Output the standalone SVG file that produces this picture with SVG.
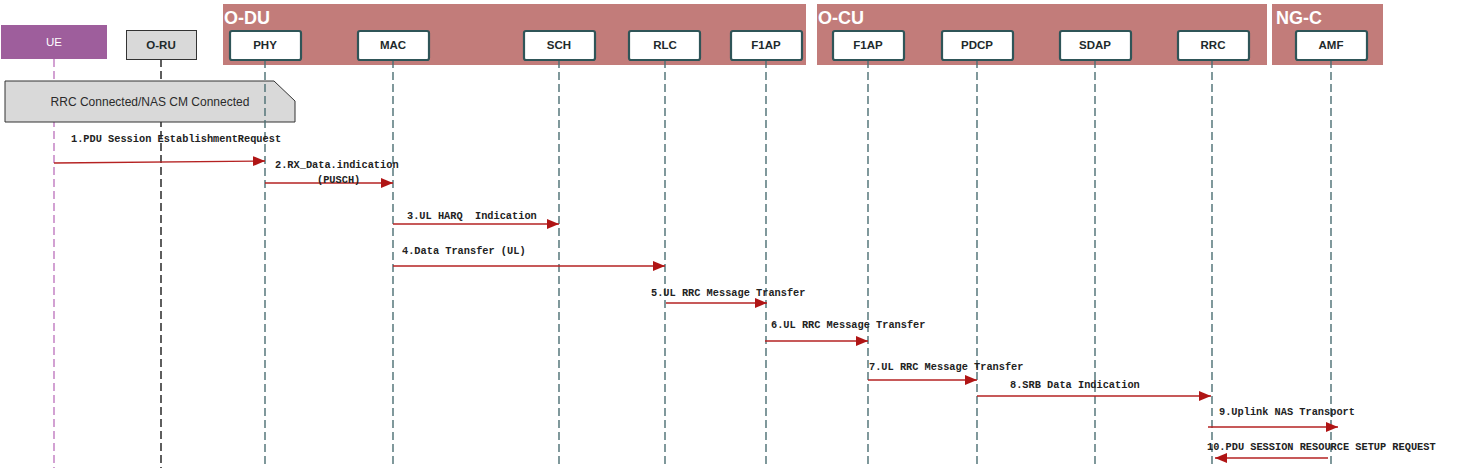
<svg xmlns="http://www.w3.org/2000/svg" width="1472" height="468" viewBox="0 0 1472 468">
<style>
.grp{fill:#C27C7A}
.gl{font-family:"Liberation Sans",Arial,sans-serif;font-weight:bold;font-size:18px;fill:#ffffff}
.box{fill:#ffffff;stroke:#2F5558;stroke-width:2.2}
.bl{font-family:"Liberation Sans",Arial,sans-serif;font-weight:bold;font-size:11.5px;fill:#1E2A2C;text-anchor:middle}
.life{stroke:#4A6E72;stroke-width:1.4;stroke-dasharray:8,4;fill:none}
.msg{stroke:#B52222;stroke-width:1.3;fill:none;marker-end:url(#ah)}
.mt{font-family:"Liberation Mono","Courier New",monospace;font-weight:bold;font-size:10.3px;fill:#222;white-space:pre}
</style>
<defs>
<marker id="ah" markerUnits="userSpaceOnUse" markerWidth="13" markerHeight="11" refX="12" refY="5" orient="auto">
<path d="M0,0 L12,5 L0,10 Z" fill="#B01515"/>
</marker>
</defs>
<rect width="1472" height="468" fill="#ffffff"/>
<g id="group-odu"><rect class="grp" x="223" y="4" width="583" height="61"/><text class="gl" x="224" y="24">O-DU</text></g>
<g id="group-ocu"><rect class="grp" x="817" y="4" width="450" height="61"/><text class="gl" x="818" y="24">O-CU</text></g>
<g id="group-ngc"><rect class="grp" x="1272" y="4" width="111" height="61"/><text class="gl" x="1276" y="24">NG-C</text></g>
<g id="node-ue"><line x1="54" y1="59" x2="54" y2="468" stroke="#C07AC0" stroke-width="1.4" stroke-dasharray="8,4"/><rect x="1" y="25" width="106" height="34" fill="#9E5E9C"/><text x="54" y="46" text-anchor="middle" font-family="Liberation Sans,Arial,sans-serif" font-size="11.5" fill="#ffffff">UE</text></g>
<g id="node-oru"><line x1="161" y1="59" x2="161" y2="468" stroke="#1a1a1a" stroke-width="1.4" stroke-dasharray="8,4"/><rect x="126.5" y="30.5" width="70" height="29" fill="#D9D9D9" stroke="#333" stroke-width="1"/><text class="bl" x="161" y="49">O-RU</text></g>
<g id="note-rrc"><path d="M5,81 L274,81 L295,101 L295,122 L5,122 Z" fill="#D9D9D9" stroke="#333" stroke-width="1"/><text x="150" y="106" text-anchor="middle" font-family="Liberation Sans,Arial,sans-serif" font-size="12" fill="#2a2a2a">RRC Connected/NAS CM Connected</text></g>
<g id="node-phy"><line class="life" x1="265" y1="60" x2="265" y2="468" stroke="#6E9195"/><rect class="box" x="230" y="31" width="71" height="29" rx="2"/><text class="bl" x="265" y="49">PHY</text></g>
<g id="node-mac"><line class="life" x1="393" y1="60" x2="393" y2="468"/><rect class="box" x="358" y="31" width="71" height="29" rx="2"/><text class="bl" x="393" y="49">MAC</text></g>
<g id="node-sch"><line class="life" x1="559" y1="60" x2="559" y2="468"/><rect class="box" x="524" y="31" width="71" height="29" rx="2"/><text class="bl" x="559" y="49">SCH</text></g>
<g id="node-rlc"><line class="life" x1="665" y1="60" x2="665" y2="468"/><rect class="box" x="629" y="31" width="71" height="29" rx="2"/><text class="bl" x="665" y="49">RLC</text></g>
<g id="node-f1ap-du"><line class="life" x1="766" y1="60" x2="766" y2="468"/><rect class="box" x="731" y="31" width="71" height="29" rx="2"/><text class="bl" x="766" y="49">F1AP</text></g>
<g id="node-f1ap-cu"><line class="life" x1="868" y1="60" x2="868" y2="468"/><rect class="box" x="833" y="31" width="71" height="29" rx="2"/><text class="bl" x="868" y="49">F1AP</text></g>
<g id="node-pdcp"><line class="life" x1="977" y1="60" x2="977" y2="468"/><rect class="box" x="942" y="31" width="71" height="29" rx="2"/><text class="bl" x="977" y="49">PDCP</text></g>
<g id="node-sdap"><line class="life" x1="1095" y1="60" x2="1095" y2="468"/><rect class="box" x="1060" y="31" width="71" height="29" rx="2"/><text class="bl" x="1095" y="49">SDAP</text></g>
<g id="node-rrc"><line class="life" x1="1212" y1="60" x2="1212" y2="468"/><rect class="box" x="1178" y="31" width="71" height="29" rx="2"/><text class="bl" x="1213" y="49">RRC</text></g>
<g id="node-amf"><line class="life" x1="1331" y1="60" x2="1331" y2="468"/><rect class="box" x="1296" y="31" width="71" height="29" rx="2"/><text class="bl" x="1331" y="49">AMF</text></g>
<g id="connectors">
<line class="msg" x1="54" y1="163" x2="265" y2="161"/>
<text class="mt" x="71" y="142">1.PDU Session EstablishmentRequest</text>
<line class="msg" x1="265" y1="183" x2="393" y2="183"/>
<text class="mt" x="275" y="168">2.RX_Data.indication</text>
<text class="mt" x="317" y="183">(PUSCH)</text>
<line class="msg" x1="393" y1="224" x2="559" y2="224"/>
<text class="mt" x="407" y="219">3.UL HARQ  Indication</text>
<line class="msg" x1="393" y1="266" x2="665" y2="266"/>
<text class="mt" x="402" y="254">4.Data Transfer (UL)</text>
<line class="msg" x1="666" y1="303" x2="767" y2="303"/>
<text class="mt" x="651" y="296">5.UL RRC Message Transfer</text>
<line class="msg" x1="765" y1="341" x2="868" y2="341"/>
<text class="mt" x="771" y="328">6.UL RRC Message Transfer</text>
<line class="msg" x1="868" y1="380" x2="977" y2="380"/>
<text class="mt" x="869" y="370">7.UL RRC Message Transfer</text>
<line class="msg" x1="977" y1="396" x2="1211" y2="396"/>
<text class="mt" x="1010" y="388">8.SRB Data Indication</text>
<line class="msg" x1="1208" y1="427" x2="1338" y2="427"/>
<text class="mt" x="1219" y="415">9.Uplink NAS Transport</text>
<line class="msg" x1="1328" y1="458" x2="1215" y2="458"/>
<text class="mt" x="1207" y="450">10.PDU SESSION RESOURCE SETUP REQUEST</text>
</g>
</svg>
